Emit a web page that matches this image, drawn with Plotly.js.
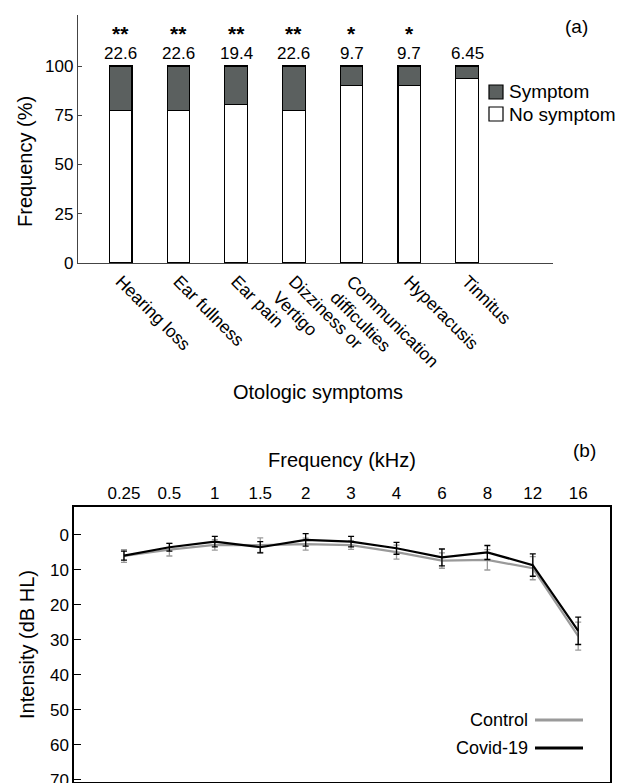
<!DOCTYPE html>
<html><head><meta charset="utf-8">
<script src="https://cdn.plot.ly/plotly-3.0.1.min.js"></script>
<style>body{margin:0;padding:0;background:#fff}#chart{width:632px;height:783px}</style>
</head><body><div id="chart"></div>
<script>
// ---- Panel (a) data ----
const symptoms = ["Hearing loss", "Ear fullness", "Ear pain", "Dizziness or<br>Vertigo", "Communication<br>difficulties", "Hyperacusis", "Tinnitus"];
const symptomPct = [22.6, 22.6, 19.4, 22.6, 9.7, 9.7, 6.45];
const noSymptomPct = [77.4, 77.4, 80.6, 77.4, 90.3, 90.3, 93.55];
const symptomLabels = ["22.6", "22.6", "19.4", "22.6", "9.7", "9.7", "6.45"];
const significance = ["**", "**", "**", "**", "*", "*", ""];
const barLegend = ["Symptom", "No symptom"];

// ---- Panel (b) data ----
const freqLabels = ["0.25", "0.5", "1", "1.5", "2", "3", "4", "6", "8", "12", "16"];
const controlDB = [6.0, 4.2, 2.8, 2.9, 2.6, 2.9, 4.9, 7.3, 7.1, 9.5, 28.9];
const controlErr = [1.8, 1.8, 1.5, 2.1, 1.7, 1.2, 2.0, 2.2, 2.9, 3.3, 4.0];
const covidDB = [5.9, 3.5, 1.9, 3.5, 1.4, 1.9, 3.8, 6.4, 5.0, 8.6, 27.4];
const covidErr = [1.3, 1.1, 1.5, 1.6, 1.8, 1.5, 1.7, 2.4, 2.0, 3.2, 3.9];

const FONT = "Liberation Sans, Arial, sans-serif";
const W = 632, H = 783;
const px = v => v / W, py = v => 1 - v / H;
const SYM_COLOR = "#5b605f", CTRL_COLOR = "#9a9a9a";

const traces = [
  {type: "bar", x: symptoms, y: noSymptomPct, name: barLegend[1], xaxis: "x", yaxis: "y",
   marker: {color: "#ffffff", line: {color: "#000", width: 1.2}}, width: 0.39, showlegend: false},
  {type: "bar", x: symptoms, y: symptomPct, name: barLegend[0], xaxis: "x", yaxis: "y",
   marker: {color: SYM_COLOR, line: {color: "#000", width: 1.2}}, width: 0.39, showlegend: false},
  {type: "scatter", mode: "lines", x: freqLabels, y: controlDB, name: "Control", xaxis: "x2", yaxis: "y2",
   line: {color: CTRL_COLOR, width: 2.2}, showlegend: false,
   error_y: {type: "data", array: controlErr, visible: true, color: CTRL_COLOR, thickness: 1.3, width: 3}},
  {type: "scatter", mode: "lines", x: freqLabels, y: covidDB, name: "Covid-19", xaxis: "x2", yaxis: "y2",
   line: {color: "#000000", width: 2.2}, showlegend: false,
   error_y: {type: "data", array: covidErr, visible: true, color: "#000000", thickness: 1.3, width: 3}}
];

function paperText(x, y, text, size, xanchor, angle) {
  return {x: px(x), y: py(y), xref: "paper", yref: "paper", text: text, showarrow: false,
    xanchor: xanchor || "center", yanchor: "middle", textangle: angle || 0,
    font: {family: FONT, size: size, color: "#000"}};
}

const annotations = [];
symptoms.forEach((s, i) => {
  annotations.push({x: s, y: 106.5, xref: "x", yref: "y", text: symptomLabels[i], showarrow: false,
    xanchor: "center", yanchor: "middle", font: {family: FONT, size: 17, color: "#000"}});
  if (significance[i]) annotations.push({x: s, y: 116.5, xref: "x", yref: "y", text: "<b>" + significance[i] + "</b>",
    showarrow: false, xanchor: "center", yanchor: "middle", font: {family: FONT, size: 21, color: "#000"}});
});
annotations.push(paperText(576, 26, "(a)", 19));
annotations.push(paperText(584, 450, "(b)", 19));
annotations.push(paperText(25, 162, "Frequency (%)", 20, "center", -90));
annotations.push(paperText(318, 392, "Otologic symptoms", 20));
// bar legend (a)
annotations.push(paperText(507, 92, barLegend[0], 19, "left"));
annotations.push(paperText(507, 114, barLegend[1], 19, "left"));
// line legend (b)
annotations.push(paperText(530, 720, "Control", 18, "right"));
annotations.push(paperText(530, 748, "Covid-19", 18, "right"));

const shapes = [
  {type: "rect", xref: "paper", yref: "paper", x0: px(489), x1: px(503), y0: py(85), y1: py(99),
   fillcolor: SYM_COLOR, line: {color: "#000", width: 1.2}},
  {type: "rect", xref: "paper", yref: "paper", x0: px(489), x1: px(503), y0: py(107), y1: py(121),
   fillcolor: "#fff", line: {color: "#000", width: 1.2}},
  {type: "line", xref: "paper", yref: "paper", x0: px(535), x1: px(583), y0: py(720), y1: py(720),
   line: {color: CTRL_COLOR, width: 3}},
  {type: "line", xref: "paper", yref: "paper", x0: px(535), x1: px(583), y0: py(748), y1: py(748),
   line: {color: "#000", width: 3}}
];

const layout = {
  width: W, height: H, margin: {l: 0, r: 0, t: 0, b: 0},
  paper_bgcolor: "#fff", plot_bgcolor: "rgba(0,0,0,0)",
  font: {family: FONT, size: 17, color: "#000"},
  barmode: "stack", showlegend: false,
  xaxis: {domain: [px(78), px(553)], anchor: "y", type: "category", range: [-0.74, 7.49],
    showline: true, linecolor: "#444", linewidth: 1.2, ticks: "", tickangle: 45,
    tickfont: {family: FONT, size: 17.5}, showgrid: false, zeroline: false},
  yaxis: {domain: [py(263), py(15)], anchor: "x", range: [0, 125.9],
    tickvals: [0, 25, 50, 75, 100], showline: true, linecolor: "#444", linewidth: 1.2,
    ticks: "inside", ticklen: 4, tickcolor: "#444", showgrid: false, zeroline: false,
    tickfont: {family: FONT, size: 17}},
  xaxis2: {domain: [px(74), px(610)], anchor: "y2", side: "top", type: "category", range: [-1.1, 10.7],
    showline: true, mirror: true, linecolor: "#000", linewidth: 1.6, ticks: "",
    tickfont: {family: FONT, size: 17}, showgrid: false, zeroline: false,
    title: {text: "Frequency (kHz)", font: {family: FONT, size: 20}, standoff: 10}},
  yaxis2: {domain: [py(782), py(507)], anchor: "x2", range: [70.6, -8],
    tickvals: [0, 10, 20, 30, 40, 50, 60, 70], showline: true, mirror: true, linecolor: "#000", linewidth: 1.6,
    ticks: "inside", ticklen: 7, tickcolor: "#000", showgrid: false, zeroline: false,
    tickfont: {family: FONT, size: 17}, ticklabeloverflow: "allow",
    title: {text: "Intensity (dB HL)", font: {family: FONT, size: 20}, standoff: 10}},
  annotations: annotations,
  shapes: shapes
};

Plotly.newPlot("chart", traces, layout, {displayModeBar: false, staticPlot: true});
</script></body></html>
